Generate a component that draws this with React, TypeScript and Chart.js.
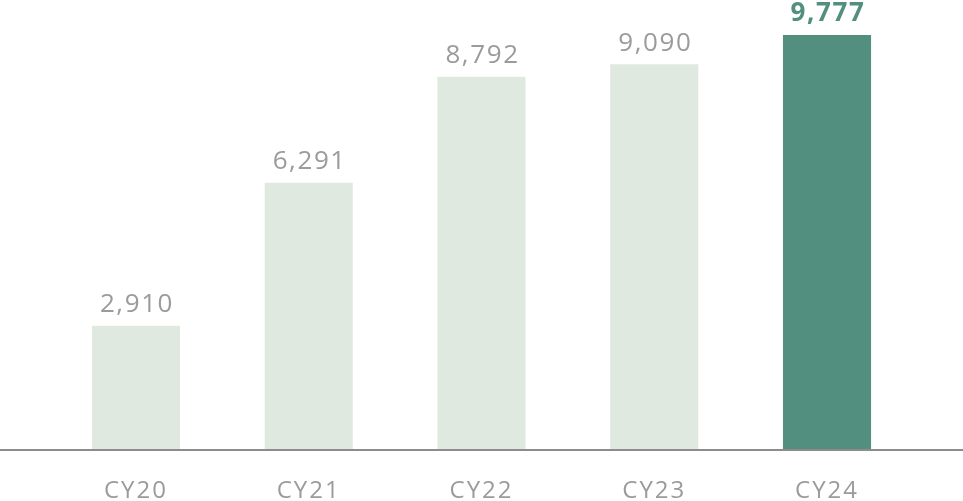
import React, { useEffect, useRef } from "react";
import { Chart, registerables } from "chart.js";

Chart.register(...registerables);

const categories = ["CY20", "CY21", "CY22", "CY23", "CY24"];
const values = [2910, 6291, 8792, 9090, 9777];
const valueLabels = ["2,910", "6,291", "8,792", "9,090", "9,777"];

const LIGHT = "#dfe9e0";
const DARK = "#538f7e";
const GRAY = "#9b9b9b";
const FONT = "'Open Sans', 'Noto Sans', sans-serif";

const spacingPlugin = {
  id: "spacing",
  beforeDraw(chart: any) {
    chart.ctx.letterSpacing = "2px";
  },
};

const labelPlugin = {
  id: "valueLabels",
  afterDatasetsDraw(chart: any) {
    const ctx = chart.ctx;
    const meta = chart.getDatasetMeta(0);
    ctx.save();
    ctx.textAlign = "center";
    ctx.textBaseline = "bottom";
    ctx.letterSpacing = "1.6px";
    meta.data.forEach((bar: any, i: number) => {
      const last = i === values.length - 1;
      ctx.font = last ? `bold 26px ${FONT}` : `26px ${FONT}`;
      ctx.fillStyle = last ? DARK : GRAY;
      ctx.fillText(valueLabels[i], bar.x + 1, bar.y - 8);
    });
    ctx.restore();
  },
};

const baselinePlugin = {
  id: "baseline",
  afterDatasetsDraw(chart: any) {
    const ctx = chart.ctx;
    const y = chart.scales.y.getPixelForValue(0);
    ctx.save();
    ctx.strokeStyle = "#8c8c8c";
    ctx.lineWidth = 2;
    ctx.beginPath();
    ctx.moveTo(0, y + 1);
    ctx.lineTo(chart.width, y + 1);
    ctx.stroke();
    ctx.restore();
  },
};

export default function App() {
  const ref = useRef<HTMLCanvasElement>(null);
  useEffect(() => {
    document.body.style.margin = "0";
    const chart = new Chart(ref.current!, {
      type: "bar",
      data: {
        labels: categories,
        datasets: [
          {
            data: values,
            backgroundColor: values.map((_, i) => (i === values.length - 1 ? DARK : LIGHT)),
            barPercentage: 0.51,
            categoryPercentage: 1,
            borderWidth: 0,
          },
        ],
      },
      options: {
        animation: false,
        responsive: true,
        maintainAspectRatio: false,
        layout: { padding: { left: 49.6, right: 49.6, top: 25.6, bottom: 0 } },
        plugins: { legend: { display: false }, tooltip: { enabled: false } },
        scales: {
          x: {
            grid: { display: false, drawTicks: false },
            border: { display: false },
            ticks: {
              color: GRAY,
              font: { family: FONT, size: 24, lineHeight: 1 },
              padding: 30,
              maxRotation: 0,
              autoSkip: false,
            },
            afterFit: (s: any) => {
              s.height = 52;
            },
          },
          y: { display: false, min: 0, max: 10000 },
        },
      },
      plugins: [spacingPlugin, labelPlugin, baselinePlugin],
    });
    return () => chart.destroy();
  }, []);
  return (
    <div style={{ width: 963, height: 501, position: "relative" }}>
      <canvas ref={ref} />
    </div>
  );
}
